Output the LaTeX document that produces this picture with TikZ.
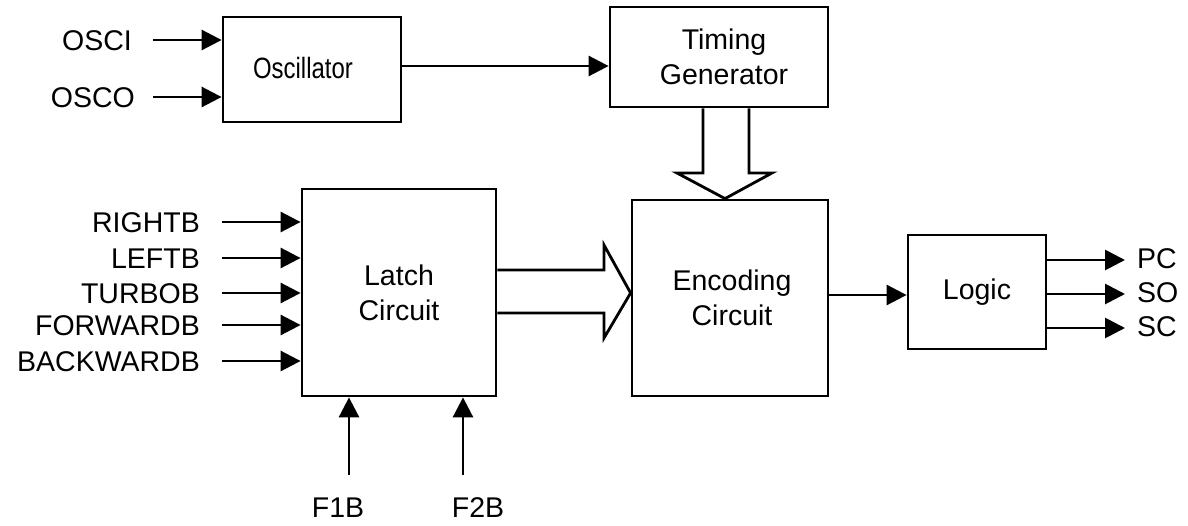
\documentclass[tikz,border=0pt]{standalone}
\usepackage{fontspec}
\setmainfont{Liberation Sans}
\usetikzlibrary{arrows.meta}
\tikzset{
  blk/.style={draw, line width=2.8pt, inner sep=0pt, align=center,
    font=\fontsize{28.5}{35}\selectfont},
  lbl/.style={inner sep=0pt, font=\fontsize{28.5}{35}\selectfont},
  arr/.style={line width=2.8pt, -{Triangle[length=20pt,width=20pt]}},
  hollow/.style={line width=2.8pt, line join=miter},
}
\begin{document}
\begin{tikzpicture}[x=1pt,y=-1pt]
\useasboundingbox (0,0) rectangle (1188,525);
% boxes
\node[blk, minimum width=178pt, minimum height=105pt] (osc) at (312,69.5)
  {\hspace*{-18pt}\raisebox{3pt}{\scalebox{0.84}[1.03]{Oscillator}}};
\node[blk, minimum width=218pt, minimum height=100pt] (tim) at (719,57)
  {\hspace*{10pt}Timing\\\hspace*{10pt}Generator};
\node[blk, minimum width=194pt, minimum height=207pt] (lat) at (399,292.5)
  {Latch\\Circuit};
\node[blk, minimum width=196pt, minimum height=196pt] (enc) at (730,298)
  {\hspace*{4pt}Encoding\\\hspace*{4pt}Circuit};
\node[blk, minimum width=138pt, minimum height=114pt] (log) at (977,292)
  {Logic};
% labels
\node[lbl, anchor=base east] (osci) at (132,50) {OSCI};
\node[lbl, anchor=base east] (osco) at (135,107) {OSCO};
\node[lbl, anchor=base east] (rightb) at (200,232) {RIGHTB};
\node[lbl, anchor=base east] (leftb) at (200,268) {LEFTB};
\node[lbl, anchor=base east] (turbob) at (200,303) {TURBOB};
\node[lbl, anchor=base east] (forwardb) at (200,335) {FORWARDB};
\node[lbl, anchor=base east] (backwardb) at (200,371) {BACKWARDB};
\node[lbl, anchor=base] (f1b) at (338,517) {F1B};
\node[lbl, anchor=base] (f2b) at (478,517) {F2B};
\node[lbl, anchor=base west] (pc) at (1137,268) {PC};
\node[lbl, anchor=base west] (so) at (1137,302) {SO};
\node[lbl, anchor=base west] (sc) at (1137,336) {SC};
% free ends
\coordinate (osciS) at (153,40);
\coordinate (oscoS) at (153,97);
\coordinate (rS) at (222,222);
\coordinate (lS) at (222,258);
\coordinate (tS) at (222,293);
\coordinate (fS) at (222,325);
\coordinate (bS) at (222,361);
\coordinate (f1S) at (349,475);
\coordinate (f2S) at (463,475);
\coordinate (pcE) at (1125,260);
\coordinate (soE) at (1125,294);
\coordinate (scE) at (1125,328);
% connectors
\draw[arr] (osciS) -- (osciS -| osc.west);
\draw[arr] (oscoS) -- (oscoS -| osc.west);
\draw[arr] (osc.east |- 0,66) -- (tim.west |- 0,66);
\draw[arr] (rS) -- (rS -| lat.west);
\draw[arr] (lS) -- (lS -| lat.west);
\draw[arr] (tS) -- (tS -| lat.west);
\draw[arr] (fS) -- (fS -| lat.west);
\draw[arr] (bS) -- (bS -| lat.west);
\draw[arr] (f1S) -- (f1S |- lat.south);
\draw[arr] (f2S) -- (f2S |- lat.south);
\draw[arr] (enc.east |- 0,295) -- (log.west |- 0,295);
\draw[arr] (pcE -| log.east) -- (pcE);
\draw[arr] (soE -| log.east) -- (soE);
\draw[arr] (scE -| log.east) -- (scE);
% hollow bus arrows
\draw[hollow] (lat.east |- 0,270) -- (604,270) -- (604,245) -- (enc.west |- 0,293)
  -- (604,338) -- (604,313) -- (lat.east |- 0,313);
\draw[hollow] (703,0 |- tim.south) -- (703,173) -- (677,173) -- (725,0 |- enc.north)
  -- (772,173) -- (749,173) -- (749,0 |- tim.south);
\end{tikzpicture}
\end{document}
